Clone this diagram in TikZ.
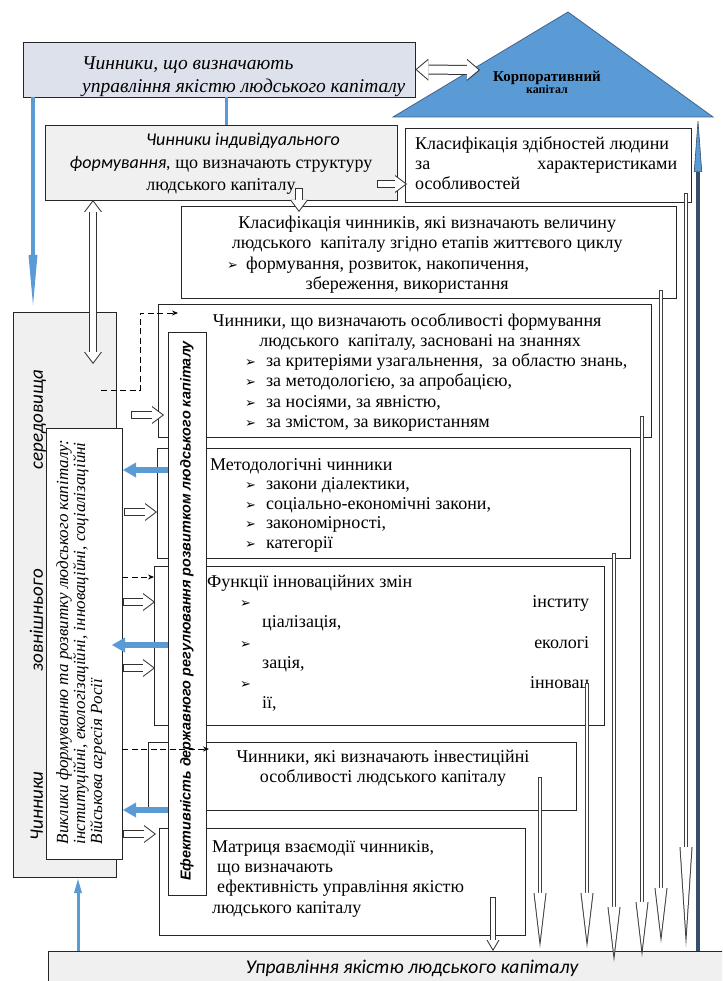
\documentclass[tikz,border=0pt]{standalone}
\usepackage{fontspec}
\setmainfont{Liberation Serif}
\newfontfamily\sansfam{Carlito}
\newfontfamily\headfam{Liberation Sans}
\newfontfamily\symfam{DejaVu Sans}
\usetikzlibrary{arrows.meta}
\definecolor{hq_blue}{RGB}{91,155,213}
\definecolor{hq_edge}{RGB}{65,100,140}
\definecolor{hq_navy}{RGB}{55,80,105}
\definecolor{hq_lav}{RGB}{221,225,235}
\definecolor{hq_gray}{RGB}{240,240,240}
\newcommand{\mybul}{{\symfam\fontsize{13}{13}\selectfont ➢}}
\tikzstyle{bx}=[rectangle,draw=black!85,line width=0.8pt,fill=white,inner sep=0pt]
\tikzstyle{gbx}=[bx,fill=hq_gray]
\tikzstyle{lbx}=[bx,fill=hq_lav]
\tikzstyle{txt}=[inner sep=0pt,font=\fontsize{18}{20.3}\selectfont]
\tikzstyle{tri}=[fill=hq_blue,draw=hq_edge,line width=0.8pt]
\tikzstyle{none}=[]
\tikzstyle{hl}=[draw=white,line width=6pt,shorten >=1.67pt,shorten <=1pt,
  -{Triangle[length=10.33pt,width=15.5pt,line width=0pt,fill=white]},
  preaction={draw=black!80,line width=8pt,shorten >=0pt,shorten <=0pt,
  -{Triangle[length=12pt,width=18pt,line width=0pt]}}]
\tikzstyle{hld}=[draw=white,line width=6pt,shorten >=1.67pt,shorten <=1.67pt,
  {Triangle[length=10.33pt,width=15.5pt,line width=0pt,fill=white]}-{Triangle[length=10.33pt,width=15.5pt,line width=0pt,fill=white]},
  preaction={draw=black!80,line width=8pt,shorten >=0pt,shorten <=0pt,
  {Triangle[length=12pt,width=18pt,line width=0pt]}-{Triangle[length=12pt,width=18pt,line width=0pt]}}]
\tikzstyle{hlw}=[draw=white,line width=8pt,shorten >=1.55pt,shorten <=1.55pt,
  {Triangle[length=11.45pt,width=19.4pt,line width=0pt,fill=white]}-{Triangle[length=11.45pt,width=19.4pt,line width=0pt,fill=white]},
  preaction={draw=black!80,line width=10pt,shorten >=0pt,shorten <=0pt,
  {Triangle[length=13pt,width=22pt,line width=0pt]}-{Triangle[length=13pt,width=22pt,line width=0pt]}}]
\tikzstyle{hs}=[draw=white,line width=4pt,shorten >=1.96pt,shorten <=1pt,
  -{Triangle[length=9.04pt,width=10.7pt,line width=0pt,fill=white]},
  preaction={draw=black!80,line width=6pt,shorten >=0pt,shorten <=0pt,
  -{Triangle[length=11pt,width=13pt,line width=0pt]}}]
\tikzstyle{hn}=[draw=white,line width=2pt,shorten >=8.52pt,shorten <=1pt,
  -{Triangle[length=46.5pt,width=11pt,line width=0pt,fill=white]},
  preaction={draw=black!75,line width=4pt,shorten >=0pt,shorten <=0pt,
  -{Triangle[length=55pt,width=13pt,line width=0pt]}}]
\tikzstyle{hnl}=[draw=white,line width=2pt,shorten >=15.4pt,shorten <=1pt,
  -{Triangle[length=84.6pt,width=11pt,line width=0pt,fill=white]},
  preaction={draw=black!75,line width=4pt,shorten >=0pt,shorten <=0pt,
  -{Triangle[length=100pt,width=13pt,line width=0pt]}}]
\tikzstyle{ba}=[draw=hq_blue,line width=6pt,-{Triangle[length=13pt,width=15pt,line width=0pt]}]
\tikzstyle{bn}=[draw=hq_blue,line width=4pt,-{Triangle[length=50pt,width=9pt,line width=0pt]}]
\tikzstyle{bu}=[draw=hq_blue,line width=3pt,-{Triangle[length=14pt,width=8pt,line width=0pt]}]
\tikzstyle{bl}=[draw=hq_blue,line width=3pt]
\tikzstyle{nv}=[draw=hq_navy,line width=3.5pt,-{Triangle[length=55pt,width=8pt,line width=0.6pt,fill=hq_blue]}]
\tikzstyle{dsh}=[draw=black,line width=0.8pt,dash pattern=on 6pt off 3.5pt,-{Stealth[length=6pt,width=5pt]}]

\begin{document}
\begin{tikzpicture}[x=1pt, y=-1pt]
            \useasboundingbox (0, 0) rectangle (722, 981);
            \clip (0, 0) rectangle (722, 981);
            \node [style=lbx, minimum width=392pt, minimum height=55pt] (0) at (219, 69.5) {};
            \draw [style=tri] (393, 117) -- (568, 12) -- (713, 117) -- cycle;
            \node [style=gbx, minimum width=352pt, minimum height=75pt] (3) at (221, 162.5) {};
            \node [style=bx, minimum width=286pt, minimum height=74pt] (4) at (548, 165) {};
            \node [style=bx, minimum width=495pt, minimum height=92pt] (5) at (428.5, 252) {};
            \node [style=bx, minimum width=493pt, minimum height=133pt] (6) at (404.5, 370.5) {};
            \node [style=bx, minimum width=473pt, minimum height=110pt] (7) at (393.5, 503) {};
            \node [style=bx, minimum width=450pt, minimum height=159pt] (8) at (379, 645.5) {};
            \node [style=bx, minimum width=428pt, minimum height=68pt] (9) at (362, 776) {};
            \node [style=bx, minimum width=366pt, minimum height=107pt] (10) at (342, 881.5) {};
            \node [style=gbx, minimum width=680pt, minimum height=40pt] (11) at (388, 971) {};
            \node [style=gbx, minimum width=103pt, minimum height=565pt] (12) at (64.5, 594.5) {};
            \node [style=bx, minimum width=76pt, minimum height=431pt] (13) at (84, 643.5) {};
            \node [style=txt, anchor=north west, align=left, font=\fontsize{19.5}{23}\selectfont\itshape] (15) at (82, 57) {Чинники, що визначають\\управління якістю людського капіталу};
            \node [style=txt, align=center, font=\bfseries] (16) at (547, 82) {{\fontsize{15}{18}\selectfont Корпоративний}\\{\fontsize{12}{14}\selectfont капітал}};
            \node [style=txt, align=center, font=\fontsize{18}{22.5}\selectfont] (18) at (221, 164) {{\sansfam\itshape\hspace*{44pt}Чинники індивідуального}\\{\sansfam\itshape формування,} що визначають структуру\\людського капіталу};
            \node [style=txt, anchor=north west, align=left, font=\fontsize{18}{20}\selectfont] (19) at (415, 136) {Класифікація здібностей людини\\\makebox[262pt]{за\hfill характеристиками}\\особливостей};
            \node [style=txt, anchor=north west, align=left] (20) at (227, 216) {\makebox[400pt]{Класифікація чинників, які визначають величину}\\\makebox[400pt]{людського\ \ капіталу згідно етапів життєвого циклу}\\\mybul\hspace{8pt}формування, розвиток, накопичення,\\\makebox[400pt]{\hspace*{-40pt}збереження, використання}};
            \node [style=txt, anchor=north west, align=left] (21) at (245, 313) {\makebox[340pt]{\hspace*{-16pt}Чинники, що визначають особливості формування}\\\makebox[340pt]{\hspace*{10pt}людського\ \ капіталу, засновані на знаннях}\\\mybul\hspace{10pt}за критеріями узагальнення,\ \ за областю знань,\\\mybul\hspace{10pt}за методологією, за апробацією,\\\mybul\hspace{10pt}за носіями, за явністю,\\\mybul\hspace{10pt}за змістом, за використанням};
            \node [style=txt, anchor=north west, align=left, font=\fontsize{18}{19.6}\selectfont] (22) at (210, 458) {Методологічні чинники\\\hspace*{35pt}\mybul\hspace{10pt}закони діалектики,\\\hspace*{35pt}\mybul\hspace{10pt}соціально-економічні закони,\\\hspace*{35pt}\mybul\hspace{10pt}закономірності,\\\hspace*{35pt}\mybul\hspace{10pt}категорії};
            \node [style=txt, anchor=north west, align=left, font=\fontsize{18}{20.2}\selectfont] (23) at (207, 575) {Функції інноваційних змін\\\makebox[382pt]{\hspace*{33pt}\mybul\hfill інститу}\\\hspace*{55pt}ціалізація,\\\makebox[382pt]{\hspace*{33pt}\mybul\hfill екологі}\\\hspace*{55pt}зація,\\\makebox[382pt]{\hspace*{33pt}\mybul\hfill інновац}\\\hspace*{55pt}ії,};
            \node [style=txt, align=center] (24) at (383, 768) {Чинники, які визначають інвестиційні\\особливості людського капіталу};
            \node [style=txt, anchor=north west, align=left] (25) at (212, 840) {Матриця взаємодії чинників,\\\hspace*{5pt}що визначають\\\hspace*{5pt}ефективність управління якістю\\людського капіталу};
            \node [style=txt, font=\fontsize{19.5}{22}\selectfont\sansfam\itshape] (26) at (412, 968) {Управління якістю людського капіталу};
            \node [style=txt, rotate=90, font=\fontsize{19}{22}\selectfont\sansfam\itshape] (27) at (38, 605) {\makebox[470pt]{Чинники\hfill зовнішнього\hfill середовища}};
            \node [style=txt, rotate=90, align=left, font=\fontsize{17}{17}\selectfont\itshape] (28) at (81, 642) {Виклики формуванню та розвитку людського капіталу:\\інституційні, екологізаційні, інноваційні, соціалізаційні\\Військова агресія Росії};
            \node [style=none] (31) at (480, 70) {};
            \node [style=none] (32) at (33, 97) {};
            \node [style=none] (33) at (33, 305) {};
            \node [style=none] (34) at (226, 97) {};
            \node [style=none] (35) at (226, 125) {};
            \node [style=none] (36) at (377, 184) {};
            \node [style=none] (37) at (407, 184) {};
            \node [style=none] (38) at (299, 188) {};
            \node [style=none] (39) at (299, 212) {};
            \node [style=none] (40) at (93, 200) {};
            \node [style=none] (41) at (93, 364) {};
            \node [style=none] (42) at (101, 390) {};
            \node [style=none] (43) at (178, 313) {};
            \node [style=none] (44) at (140, 313) {};
            \node [style=none] (45) at (131, 415) {};
            \node [style=none] (46) at (164, 415) {};
            \node [style=none] (47) at (168, 470) {};
            \node [style=none] (48) at (123, 470) {};
            \node [style=none] (49) at (124, 512) {};
            \node [style=none] (50) at (157, 512) {};
            \node [style=none] (51) at (122, 577) {};
            \node [style=none] (52) at (154, 577) {};
            \node [style=none] (53) at (123, 602) {};
            \node [style=none] (54) at (155, 602) {};
            \node [style=none] (55) at (168, 645) {};
            \node [style=none] (56) at (112, 645) {};
            \node [style=none] (57) at (123, 668) {};
            \node [style=none] (58) at (155, 668) {};
            \node [style=none] (59) at (122, 749) {};
            \node [style=none] (60) at (209, 749) {};
            \node [style=none] (61) at (168, 810) {};
            \node [style=none] (62) at (123, 810) {};
            \node [style=none] (63) at (123, 834) {};
            \node [style=none] (64) at (156, 834) {};
            \node [style=none] (65) at (78, 951) {};
            \node [style=none] (66) at (78, 879) {};
            \node [style=none] (67) at (493, 897) {};
            \node [style=none] (68) at (493, 951) {};
            \node [style=none] (69) at (540, 777) {};
            \node [style=none] (70) at (540, 948) {};
            \node [style=none] (71) at (587, 683) {};
            \node [style=none] (72) at (587, 948) {};
            \node [style=none] (73) at (614, 553) {};
            \node [style=none] (74) at (614, 962) {};
            \node [style=none] (75) at (642, 416) {};
            \node [style=none] (76) at (642, 957) {};
            \node [style=none] (77) at (661, 290) {};
            \node [style=none] (78) at (661, 943) {};
            \node [style=none] (79) at (686, 193) {};
            \node [style=none] (80) at (686, 947) {};
            \node [style=none] (81) at (698, 951) {};
            \node [style=none] (82) at (698, 117) {};
            \draw [style=hlw] (0.east) to (31.center);
            \draw [style=bn] (32.center) to (33.center);
            \draw [style=bl] (34.center) to (35.center);
            \draw [style=hl] (36.center) to (37.center);
            \draw [style=hl] (38.center) to (39.center);
            \draw [style=hld] (40.center) to (41.center);
            \draw [style=dsh] (42.center) -| (44.center) -- (43.center);
            \draw [style=hl] (45.center) to (46.center);
            \draw [style=ba] (47.center) to (48.center);
            \draw [style=hl] (49.center) to (50.center);
            \draw [style=dsh] (51.center) to (52.center);
            \draw [style=hl] (53.center) to (54.center);
            \draw [style=ba] (55.center) to (56.center);
            \draw [style=hl] (57.center) to (58.center);
            \draw [style=ba] (61.center) to (62.center);
            \draw [style=hl] (63.center) to (64.center);
            \draw [style=bu] (65.center) to (66.center);
            \draw [style=hs] (67.center) to (68.center);
            \draw [style=hn] (69.center) to (70.center);
            \draw [style=hn] (71.center) to (72.center);
            \draw [style=hn] (73.center) to (74.center);
            \draw [style=hn] (75.center) to (76.center);
            \draw [style=hn] (77.center) to (78.center);
            \draw [style=hnl] (79.center) to (80.center);
            \draw [style=nv] (81.center) to (82.center);
            \node [style=bx, minimum width=38pt, minimum height=563pt] (14) at (187, 613.5) {};
            \node [style=txt, rotate=90, font=\fontsize{14.4}{16}\selectfont\headfam\bfseries\itshape] (29) at (187, 611) {Ефективність державного регулювання розвитком людського капіталу};
            \draw [style=dsh] (59.center) to (60.center);
\end{tikzpicture}
\end{document}
